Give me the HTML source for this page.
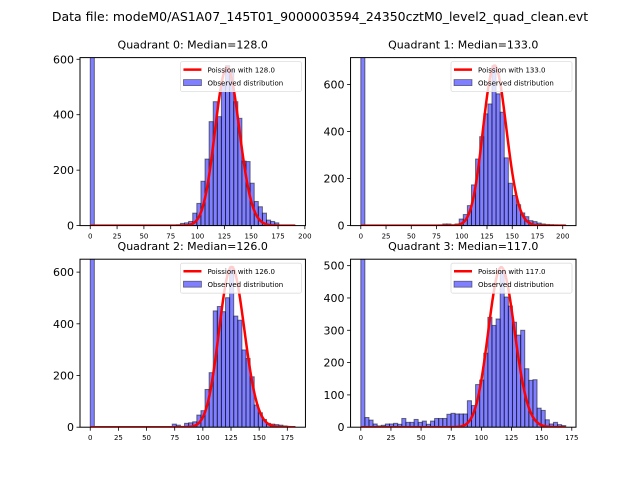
<!DOCTYPE html>
<html><head><meta charset="utf-8"><style>
body{margin:0;background:#fff;}
svg{display:block;font-family:"DejaVu Sans","Liberation Sans",sans-serif;}
</style></head><body>
<svg id="fig" width="640" height="480" viewBox="0 0 640 480">
<rect width="640" height="480" fill="#fff"/>
<text x="320" y="21" text-anchor="middle" font-size="12.5">Data file: modeM0/AS1A07_145T01_9000003594_24350cztM0_level2_quad_clean.evt</text>
</svg>
<script>
// Chart data
const quadTitles = ["Quadrant 0: Median=128.0","Quadrant 1: Median=133.0","Quadrant 2: Median=126.0","Quadrant 3: Median=117.0"];
const medians = [128, 133, 126, 117];
const dataMax = [191, 203, 182, 170];
const yMax = [606, 714, 650, 520];
const yTicks0 = [0, 200, 400, 600];
const yTicks1 = [0, 200, 400, 600];
const yTicks2 = [0, 200, 400, 600];
const yTicks3 = [0, 100, 200, 300, 400, 500];
const xTicks0 = [0, 25, 50, 75, 100, 125, 150, 175, 200];
const xTicks1 = [0, 25, 50, 75, 100, 125, 150, 175, 200];
const xTicks2 = [0, 25, 50, 75, 100, 125, 150, 175];
const xTicks3 = [0, 25, 50, 75, 100, 125, 150, 175];
const poissonPeak = [570, 680, 620, 495];
const counts0 = [3000,0,0,0,0,0,0,0,0,0,0,0,0,0,0,0,1,1,2,1,2,3,8,10,15,45,80,160,240,375,447,393,513,577,561,447,387,233,231,153,87,68,45,20,15,10,2,1,1,1];
const counts1 = [4000,0,0,0,0,0,0,0,0,0,0,0,0,0,0,0,0,1,2,3,7,7,3,7,28,47,85,173,283,378,475,517,680,560,482,288,180,128,89,54,38,21,17,11,7,5,4,3,2,2];
const counts2 = [3000,0,0,0,0,0,0,0,0,0,0,0,0,0,0,0,0,0,0,0,12,8,2,15,17,21,47,64,146,211,450,467,447,501,621,430,414,299,266,195,86,56,30,15,12,10,8,5,3,2];
const counts3 = [3000,30,22,10,4,6,10,10,12,9,27,15,15,24,15,19,9,19,27,27,27,40,43,41,41,41,82,67,132,146,229,340,315,335,485,403,375,325,285,300,181,145,147,59,52,23,10,15,8,5];

const allCounts=[counts0,counts1,counts2,counts3];
const allYT=[yTicks0,yTicks1,yTicks2,yTicks3];
const allXT=[xTicks0,xTicks1,xTicks2,xTicks3];
const NS="http://www.w3.org/2000/svg";
const svg=document.getElementById('fig');
function mk(tag,attrs,parent){const e=document.createElementNS(NS,tag);for(const k in attrs)e.setAttribute(k,attrs[k]);(parent||svg).appendChild(e);return e;}
const W=225.45,H=168;
const lefts=[80,350.55,80,350.55], tops=[57.6,57.6,259.2,259.2];
function logFact(n){let s=0;for(let i=2;i<=n;i++)s+=Math.log(i);return s;}
for(let q=0;q<4;q++){
  const L=lefts[q],T=tops[q],B=T+H;
  const mx=dataMax[q], pad=mx*0.05, x0=-pad, x1=mx+pad;
  const xs=v=>L+(v-x0)/(x1-x0)*W;
  const ys=v=>B-v/yMax[q]*H;
  const g=mk('g',{});
  
  
  const cp=mk('clipPath',{id:'cp'+q},g);
  mk('rect',{x:L,y:T,width:W,height:H},cp);
  const t=mk('text',{x:L+W/2,y:T-9,'text-anchor':'middle','font-size':'11'},g);
  t.textContent=quadTitles[q];
  
  
  const bars=mk('g',{'clip-path':'url(#cp'+q+')'},g);
  const counts=allCounts[q], bw=mx/counts.length;
  counts.forEach((c,i)=>{
    if(c<=0)return;
    const r=mk('rect',{x:xs(i*bw),y:ys(c),width:xs((i+1)*bw)-xs(i*bw),height:ys(0)-ys(c),fill:'rgba(0,0,255,0.5)',stroke:'rgba(0,0,0,0.5)','stroke-width':'1'},bars);
    
    
  });
  const lam=medians[q], lpk=lam*Math.log(lam)-lam-logFact(Math.floor(lam));
  let d='';
  for(let k=0;k<=Math.floor(mx);k++){
    const lp=k*Math.log(Math.max(lam,1e-9))-lam-logFact(k);
    const v=poissonPeak[q]*Math.exp(lp-lpk);
    d+=(k?'L':'M')+xs(k).toFixed(2)+','+ys(v).toFixed(2);
  }
  const pl=mk('path',{d:d,fill:'none',stroke:'#ff0000','stroke-width':'2.5','clip-path':'url(#cp'+q+')'},g);
  
  
  const fr=mk('rect',{x:L,y:T,width:W,height:H,fill:'none',stroke:'#000','stroke-width':'1'},g);
  
  
  allYT[q].forEach(v=>{
    const y=ys(v);
    mk('line',{x1:L-3.5,x2:L,y1:y,y2:y,stroke:'#000','stroke-width':'0.8'},g);
    const tx=mk('text',{x:L-6,y:y+4,'text-anchor':'end','font-size':'11'},g);
    tx.textContent=v;
    
    
  });
  allXT[q].forEach(v=>{
    const x=xs(v);
    mk('line',{x1:x,x2:x,y1:B,y2:B+3.5,stroke:'#000','stroke-width':'0.8'},g);
    const tx=mk('text',{x:x,y:B+13,'text-anchor':'middle','font-size':'7'},g);
    tx.textContent=v;
    
    
  });
  const lg=mk('g',{},g);
  
  
  const lx=L+W-125, ly=T+4;
  mk('rect',{x:lx,y:ly,width:121,height:30,rx:2,fill:'rgba(255,255,255,0.8)',stroke:'#ddd','stroke-width':'0.8'},lg);
  mk('line',{x1:lx+3,x2:lx+21,y1:ly+8,y2:ly+8,stroke:'#ff0000','stroke-width':'2.5'},lg);
  const t1=mk('text',{x:lx+27,y:ly+11,'font-size':'7'},lg);
  t1.textContent='Poission with '+medians[q].toFixed(1);
  
  
  mk('rect',{x:lx+3,y:ly+18,width:18,height:6,fill:'rgba(0,0,255,0.5)',stroke:'rgba(0,0,0,0.5)','stroke-width':'0.8'},lg);
  const t2=mk('text',{x:lx+27,y:ly+24,'font-size':'7'},lg);
  t2.textContent='Observed distribution';
  
  
}
</script>
</body></html>
